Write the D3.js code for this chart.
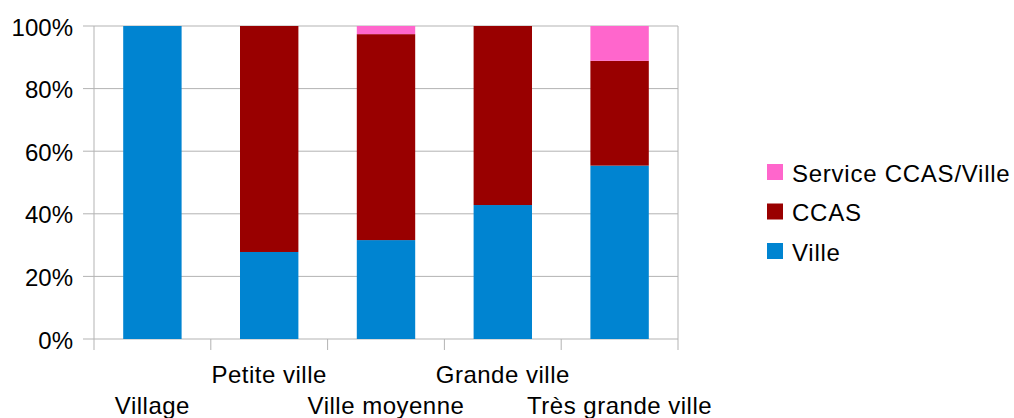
<!DOCTYPE html>
<html>
<head>
<meta charset="utf-8">
<script src="https://cdn.jsdelivr.net/npm/d3@7"></script>
<style>
html,body{margin:0;padding:0;background:#fff;}
svg{display:block;font-family:"Liberation Sans",Arial,sans-serif;}
</style>
</head>
<body>
<svg id="chart" width="1014" height="418"></svg>
<script>
const categories = ["Village", "Petite ville", "Ville moyenne", "Grande ville", "Très grande ville"];
const seriesNames = ["Ville", "CCAS", "Service CCAS/Ville"];
const ville = [100, 27.8, 31.6, 42.8, 55.4];
const ccas = [0, 72.2, 65.8, 57.2, 33.5];
const serviceCcasVille = [0, 0, 2.6, 0, 11.1];
const yTicks = [0, 20, 40, 60, 80, 100];
const colors = ["#0084d1", "#990000", "#ff66cc"];

(function () {
const svg = d3.select("#chart");
const pLeft = 94, pRight = 678, pTop = 26, pBottom = 339;
const x = d3.scaleBand().domain(categories).range([pLeft, pRight]).paddingInner(0.5).paddingOuter(0.25);
const xb = d3.scaleBand().domain(categories).range([pLeft, pRight]);
const y = d3.scaleLinear().domain([0, 100]).range([pBottom, pTop]);
const grid = "#b3b3b3";

// gridlines
svg.append("g").selectAll("line").data(yTicks).join("line")
  .attr("x1", pLeft - 11).attr("x2", pRight)
  .attr("y1", d => y(d)).attr("y2", d => y(d))
  .attr("stroke", grid).attr("stroke-width", 1);

// vertical axis lines
[pLeft, pRight].forEach(px => {
  svg.append("line").attr("x1", px).attr("x2", px).attr("y1", pTop).attr("y2", pBottom + 11)
    .attr("stroke", grid).attr("stroke-width", 1);
});
// category boundary ticks
svg.append("g").selectAll("line").data(categories.slice(1)).join("line")
  .attr("x1", d => xb(d)).attr("x2", d => xb(d))
  .attr("y1", pBottom).attr("y2", pBottom + 11)
  .attr("stroke", grid).attr("stroke-width", 1);

// stacked data
const table = categories.map((c, i) => ({cat: c, "Ville": ville[i], "CCAS": ccas[i], "Service CCAS/Ville": serviceCcasVille[i]}));
const stacked = d3.stack().keys(seriesNames)(table);
svg.append("g").selectAll("g").data(stacked).join("g")
  .attr("fill", (d, i) => colors[i])
  .selectAll("rect").data(d => d).join("rect")
  .attr("x", d => x(d.data.cat))
  .attr("width", x.bandwidth())
  .attr("y", d => y(d[1]))
  .attr("height", d => Math.max(0, y(d[0]) - y(d[1])));

// y labels
svg.append("g").selectAll("text").data(yTicks).join("text")
  .attr("x", 73).attr("y", d => y(d)).attr("dy", "0.4em")
  .attr("text-anchor", "end").attr("font-size", 24).attr("fill", "#000")
  .text(d => d + "%");

// x labels (staggered)
svg.append("g").selectAll("text").data(categories).join("text")
  .attr("x", d => x(d) + x.bandwidth() / 2)
  .attr("y", (d, i) => i % 2 === 0 ? 414 : 383)
  .attr("text-anchor", "middle").attr("font-size", 24).attr("letter-spacing", 0.5).attr("fill", "#000")
  .text(d => d);

// legend
const legendOrder = [2, 1, 0];
const lg = svg.append("g").selectAll("g").data(legendOrder).join("g")
  .attr("transform", (d, i) => `translate(767,${164 + i * 39.5})`);
lg.append("rect").attr("width", 16).attr("height", 16).attr("fill", d => colors[d]);
lg.append("text").attr("x", 25).attr("y", 17.5).attr("font-size", 24).attr("letter-spacing", 0.75).attr("fill", "#000")
  .text(d => seriesNames[d]);
})();
</script>
</body>
</html>
